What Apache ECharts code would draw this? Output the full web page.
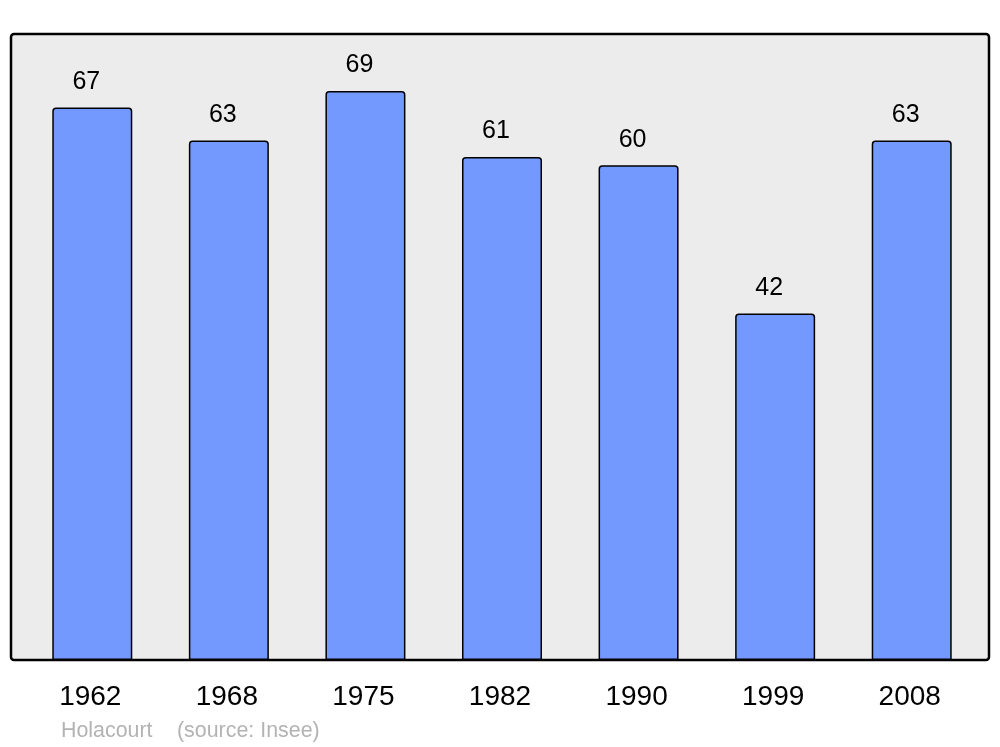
<!DOCTYPE html>
<html>
<head>
<meta charset="utf-8">
<script src="https://cdn.jsdelivr.net/npm/echarts@6/dist/echarts.min.js"></script>
<style>
html,body{margin:0;padding:0;background:#fff;}
#chart{width:1000px;height:747px;}
</style>
</head>
<body>
<div id="chart"></div>
<script>
const years = ['1962','1968','1975','1982','1990','1999','2008'];
const population = [67, 63, 69, 61, 60, 42, 63];
const townName = 'Holacourt';
const sourceText = '(source: Insee)';

const chart = echarts.init(document.getElementById('chart'), null, {renderer:'canvas'});
const font = 'Liberation Sans, Arial, sans-serif';
chart.setOption({
  animation: false,
  backgroundColor: '#ffffff',
  grid: {left: 24, right: 20, top: 34, bottom: 87},
  xAxis: {
    type: 'category',
    data: years,
    boundaryGap: true,
    axisLine: {show: false},
    axisTick: {show: false},
    axisLabel: {fontFamily: font, fontSize: 28, color: '#000', margin: 23, padding: [0, 4, 0, 0]}
  },
  yAxis: {
    type: 'value', min: 0, max: 75.9, show: false, splitLine: {show: false}
  },
  graphic: [
    {type: 'rect', z: -10, shape: {x: 11, y: 34, width: 978, height: 626, r: 3},
     style: {fill: '#ececec', stroke: '#000', lineWidth: 2.5}},
    {type: 'text', left: 61, top: 721, style: {text: townName, font: '21.4px ' + font, fill: '#b3b3b3'}},
    {type: 'text', left: 177, top: 721, style: {text: sourceText, font: '21.4px ' + font, fill: '#b3b3b3'}}
  ],
  series: [{
    type: 'bar',
    data: population,
    barWidth: 80,
    itemStyle: {color: '#7399ff', borderColor: '#000', borderWidth: 1.5, borderRadius: [3,3,0,0]},
    label: {show: true, position: 'top', distance: 13, offset: [-6, 0], fontFamily: font, fontSize: 25, color: '#000'}
  }]
});
</script>
</body>
</html>
